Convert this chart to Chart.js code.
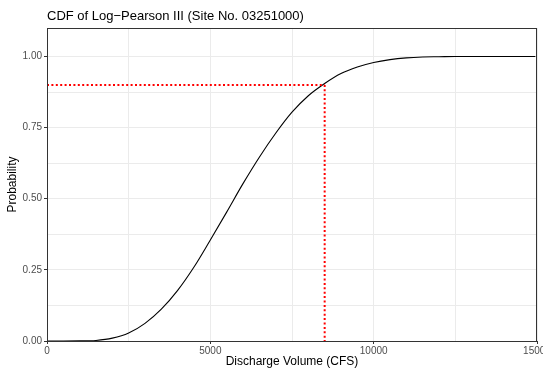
<!DOCTYPE html>
<html>
<head>
<meta charset="utf-8">
<script src="https://cdn.jsdelivr.net/npm/chart.js@4.4.1/dist/chart.umd.min.js"></script>
<style>
  html, body { margin: 0; padding: 0; background: #ffffff; }
  #wrap { position: relative; width: 543px; height: 377px; overflow: hidden; }
  #title { position: absolute; left: 47px; top: 9px; font-family: "Liberation Sans", Arial, sans-serif; font-size: 13px; line-height: 13px; color: #000; white-space: nowrap; }
  canvas { position: absolute; left: 0; top: 0; }
</style>
</head>
<body>
<div id="wrap">
  <canvas id="c" width="543" height="377"></canvas>
  <div id="title">CDF of Log−Pearson III (Site No. 03251000)</div>
</div>
<script>
// Discharge (CFS) and cumulative probability
const dischargeCFS = [0, 500, 1000, 1500, 2000, 2500, 3000, 3500, 4000, 4500, 5000, 5500, 6000, 6500, 7000, 7500, 8000, 8500, 9000, 9500, 10000, 10500, 11000, 11500, 12000, 12500, 13000, 13500, 14000, 14500, 14950];
const cdfProbability = [0, 0, 0.0003, 0.002, 0.01, 0.028, 0.062, 0.112, 0.178, 0.26, 0.355, 0.453, 0.553, 0.646, 0.73, 0.804, 0.862, 0.905, 0.94, 0.963, 0.979, 0.989, 0.995, 0.998, 0.999, 1, 1, 1, 1, 1, 1];

// Reference lines (90% probability)
const hLineX = [0, 8500];
const hLineY = [0.9, 0.9];
const vLineX = [8500, 8500];
const vLineY = [0.9, 0];

// Axis ticks (majors labelled, minors only gridlines)
const xTicks = [0, 2500, 5000, 7500, 10000, 12500, 15000];
const xMajor = [0, 5000, 10000, 15000];
const yTicks = [0, 0.125, 0.25, 0.375, 0.5, 0.625, 0.75, 0.875, 1.0];
const yMajor = [0, 0.25, 0.5, 0.75, 1.0];

const toPts = (xs, ys) => xs.map((x, i) => ({ x: x, y: ys[i] }));
const FONT = '"Liberation Sans", Arial, sans-serif';

const panelBorder = {
  id: 'panelBorder',
  afterDatasetsDraw(chart) {
    const { ctx, chartArea: a } = chart;
    ctx.save();
    ctx.strokeStyle = '#333333';
    ctx.lineWidth = 1;
    ctx.strokeRect(Math.round(a.left) + 0.5, Math.round(a.top) + 0.5, Math.round(a.right - a.left) - 1, Math.round(a.bottom - a.top));
    ctx.restore();
  }
};

new Chart(document.getElementById('c'), {
  type: 'line',
  data: {
    datasets: [
      { data: toPts(hLineX, hLineY), borderColor: '#FF0000', borderWidth: 2, borderDash: [2, 2.4], pointRadius: 0, fill: false, tension: 0 },
      { data: toPts(vLineX, vLineY), borderColor: '#FF0000', borderWidth: 2, borderDash: [2, 2.4], pointRadius: 0, fill: false, tension: 0 },
      { data: toPts(dischargeCFS, cdfProbability), borderColor: '#000000', borderWidth: 1.1, pointRadius: 0, fill: false, cubicInterpolationMode: 'monotone' }
    ]
  },
  options: {
    responsive: false,
    animation: false,
    devicePixelRatio: 1,
    layout: { padding: { top: 28, right: 6, left: 0, bottom: 0 } },
    plugins: { legend: { display: false }, tooltip: { enabled: false }, title: { display: false } },
    scales: {
      x: {
        type: 'linear', min: 0, max: 15000,
        afterBuildTicks: s => { s.ticks = xTicks.map(v => ({ value: v })); },
        afterFit: s => { s.height = 36; s.paddingRight = 0; s.paddingLeft = 0; },
        border: { display: false },
        grid: {
          color: '#EBEBEB',
          lineWidth: 1,
          tickColor: c => (xMajor.includes(c.tick && c.tick.value) ? '#333333' : 'rgba(0,0,0,0)'),
          tickWidth: 1, tickLength: 3, drawTicks: true
        },
        ticks: {
          autoSkip: false, maxRotation: 0, padding: 1,
          color: '#4D4D4D', font: { family: FONT, size: 10 },
          callback: v => (xMajor.includes(v) ? String(v) : '')
        },
        title: { display: true, text: 'Discharge Volume (CFS)', color: '#000000', font: { family: FONT, size: 12 }, padding: { top: 0, bottom: 8 } }
      },
      y: {
        type: 'linear', min: 0, max: 1.1,
        afterBuildTicks: s => { s.ticks = yTicks.map(v => ({ value: v })); },
        afterFit: s => { s.width = 47; s.paddingTop = 0; s.paddingBottom = 0; },
        border: { display: false },
        grid: {
          color: '#EBEBEB',
          lineWidth: 1,
          tickColor: c => (yMajor.includes(c.tick && c.tick.value) ? '#333333' : 'rgba(0,0,0,0)'),
          tickWidth: 1, tickLength: 3, drawTicks: true
        },
        ticks: {
          autoSkip: false, padding: 2,
          color: '#4D4D4D', font: { family: FONT, size: 10 },
          callback: v => (yMajor.includes(v) ? v.toFixed(2) : '')
        },
        title: { display: true, text: 'Probability', color: '#000000', font: { family: FONT, size: 12 }, padding: { top: 5, bottom: 0 } }
      }
    }
  },
  plugins: [panelBorder]
});
</script>
</body>
</html>
